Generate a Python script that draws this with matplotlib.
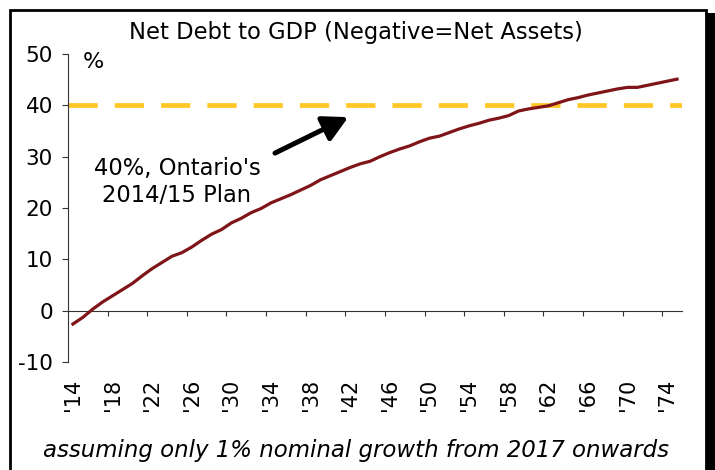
import numpy as np
import matplotlib.pyplot as plt
from matplotlib.patches import Rectangle

# data
years = np.arange(2014, 2076)
net_debt = [-2.6, -1.3, 0.3, 1.7, 2.9, 4.1, 5.3, 6.8, 8.2, 9.4,
            10.6, 11.3, 12.4, 13.7, 14.9, 15.8, 17.1, 18.0, 19.1, 19.9,
            21.0, 21.8, 22.6, 23.5, 24.4, 25.5, 26.3, 27.1, 27.9, 28.6,
            29.1, 30.0, 30.8, 31.5, 32.1, 32.9, 33.6, 34.0, 34.7, 35.4,
            36.0, 36.5, 37.1, 37.5, 38.0, 38.9, 39.3, 39.6, 39.9, 40.5,
            41.1, 41.5, 42.0, 42.4, 42.8, 43.2, 43.5, 43.5, 43.9, 44.3,
            44.7, 45.1]
plan_target = 40
xlabels = ["'%02d" % (y % 100) for y in years]

plt.rcParams['font.family'] = ['DejaVu Sans']
plt.rcParams['axes.unicode_minus'] = False

fig = plt.figure(figsize=(7.15, 4.70), dpi=100)
ax = fig.add_axes([68/715, 1 - 362/470, 614/715, 308/470])

x = np.arange(len(years))
ax.axhline(plan_target, color='#FFC726', lw=3.4, dashes=(6.2, 3.6),
           dash_capstyle='butt', zorder=2)
ax.plot(x, net_debt, color='#7F1518', lw=2.3, zorder=3)

ax.set_xlim(-0.5, len(years) - 0.5)
ax.set_ylim(-10, 50)
ax.set_yticks(np.arange(-10, 51, 10))
ax.tick_params(axis='y', direction='out', length=4.3, width=0.8,
               labelsize=15.5, pad=6.5, color='#333333')

ax.set_xticks(x[::4], xlabels[::4], rotation=90)
ax.tick_params(axis='x', length=0, labelsize=15, pad=12)
for s in ['top', 'right', 'bottom']:
    ax.spines[s].set_visible(False)
ax.spines['left'].set_color('#333333')
ax.spines['left'].set_linewidth(0.8)

# axis line at zero with tick marks between category groups
sec = ax.secondary_xaxis(10 / 60)
sec.set_xticks(np.arange(3.5, len(years) - 1, 4), labels=[])
sec.tick_params(direction='out', length=3.5, width=0.8, color='#333333')
sec.spines['bottom'].set_color('#333333')
sec.spines['bottom'].set_linewidth(0.8)

ax.annotate('', xy=(27.8, 37.7), xytext=(20.4, 30.7),
            arrowprops=dict(arrowstyle='-|>,head_length=0.75,head_width=0.4',
                            lw=3.6, color='black', mutation_scale=20,
                            shrinkA=0, shrinkB=0))

fig.text(177/715, 1 - 182/470, "40%, Ontario's\n2014/15 Plan", ha='center',
         va='center', fontsize=16.3, linespacing=1.2)
fig.text(93/715, 1 - 62/470, '%', ha='center', va='center', fontsize=16)
fig.text(356/715, 1 - 32/470, 'Net Debt to GDP (Negative=Net Assets)',
         ha='center', va='center', fontsize=16.3)
fig.text(356/715, 1 - 450/470, 'assuming only 1% nominal growth from 2017 onwards',
         ha='center', va='center', fontsize=16.5, style='italic')

# frame with shadow
fig.patches.append(Rectangle((707/715, -0.01), 8/715, 1 - 13/470 + 0.01,
                             transform=fig.transFigure, facecolor='black',
                             edgecolor='none'))
fig.patches.append(Rectangle((9.5/715, -0.05), 696/715, 1 - 9.5/470 + 0.05,
                             transform=fig.transFigure, facecolor='none',
                             edgecolor='black', lw=2))

plt.savefig('out.png', dpi=100)
